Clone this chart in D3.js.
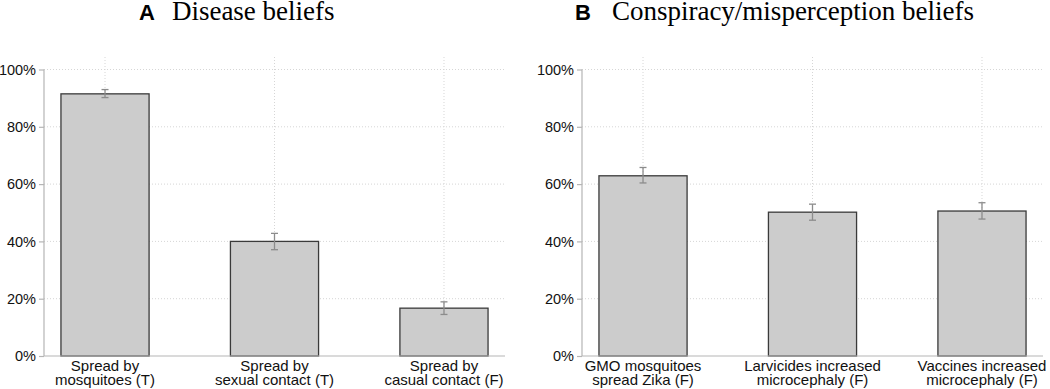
<!DOCTYPE html>
<html>
<head>
<meta charset="utf-8">
<script src="https://cdn.jsdelivr.net/npm/d3@7"></script>
<style>
  body { margin: 0; background: #fff; }
  svg { display: block; }
</style>
</head>
<body>
<div id="chart"></div>
<script>
var W = 1050, H = 389;

// panel A
var catsA = [['Spread by', 'mosquitoes (T)'], ['Spread by', 'sexual contact (T)'], ['Spread by', 'casual contact (F)']];
var valsA = [91.5, 40.0, 16.7];
var loA = [90.2, 37.1, 14.5];
var hiA = [93.0, 42.8, 18.9];

// panel B
var catsB = [['GMO mosquitoes', 'spread Zika (F)'], ['Larvicides increased', 'microcephaly (F)'], ['Vaccines increased', 'microcephaly (F)']];
var valsB = [62.9, 50.2, 50.6];
var loB = [60.4, 47.4, 47.8];
var hiB = [65.8, 53.0, 53.5];

var yTicks = [0, 20, 40, 60, 80, 100];

var svg = d3.select('#chart').append('svg')
    .attr('width', W)
    .attr('height', H);

function drawPanel(opts) {
    var g = svg.append('g');
    var x0 = opts.left, x1 = opts.right;
    var top = 57, bottom = 356;

    var y = d3.scaleLinear().domain([0, 100]).range([bottom, 69.5]);
    var x = d3.scaleBand()
        .domain(d3.range(opts.cats.length))
        .range([x0, x1])
        .paddingInner(0.48)
        .paddingOuter(0.1);

    // horizontal grid
    g.append('g').selectAll('line')
        .data(yTicks.filter(function(t) { return t > 0; }))
        .join('line')
        .attr('x1', x0).attr('x2', x1)
        .attr('y1', function(d) { return y(d); })
        .attr('y2', function(d) { return y(d); })
        .attr('stroke', '#d6d6d6')
        .attr('stroke-width', 1)
        .attr('stroke-dasharray', '1,2');

    // vertical grid at bar centres
    g.append('g').selectAll('line')
        .data(d3.range(opts.cats.length))
        .join('line')
        .attr('x1', function(d) { return x(d) + x.bandwidth() / 2; })
        .attr('x2', function(d) { return x(d) + x.bandwidth() / 2; })
        .attr('y1', top).attr('y2', bottom)
        .attr('stroke', '#d6d6d6')
        .attr('stroke-width', 1)
        .attr('stroke-dasharray', '1,2');

    // bars
    g.append('g').selectAll('rect')
        .data(opts.vals)
        .join('rect')
        .attr('x', function(d, i) { return x(i); })
        .attr('y', function(d) { return y(d); })
        .attr('width', x.bandwidth())
        .attr('height', function(d) { return y(0) - y(d); })
        .attr('fill', '#cccccc')
        .attr('stroke', '#3a3a3a')
        .attr('stroke-width', 1.3);

    // error bars
    var eb = g.append('g').selectAll('g')
        .data(opts.vals.map(function(v, i) { return {lo: opts.lo[i], hi: opts.hi[i], i: i}; }))
        .join('g')
        .attr('stroke', '#8c8c8c')
        .attr('stroke-width', 1.3);
    eb.append('line')
        .attr('x1', function(d) { return x(d.i) + x.bandwidth() / 2; })
        .attr('x2', function(d) { return x(d.i) + x.bandwidth() / 2; })
        .attr('y1', function(d) { return y(d.lo); })
        .attr('y2', function(d) { return y(d.hi); });
    [ 'lo', 'hi' ].forEach(function(k) {
        eb.append('line')
            .attr('x1', function(d) { return x(d.i) + x.bandwidth() / 2 - 3.5; })
            .attr('x2', function(d) { return x(d.i) + x.bandwidth() / 2 + 3.5; })
            .attr('y1', function(d) { return y(d[k]); })
            .attr('y2', function(d) { return y(d[k]); });
    });

    // y axis
    var yAxis = g.append('g')
        .attr('transform', 'translate(' + x0 + ',0)')
        .call(d3.axisLeft(y).tickValues(yTicks).tickSize(5).tickPadding(3)
            .tickFormat(function(d) { return d + '%'; }));
    yAxis.select('.domain').attr('stroke', '#b5b5b5').attr('stroke-width', 1.2)
        .attr('d', 'M0,' + y(100) + 'V' + y(0));
    yAxis.selectAll('.tick line').attr('stroke', '#b5b5b5').attr('stroke-width', 1.2);
    yAxis.selectAll('.tick text')
        .attr('font-family', 'Liberation Sans, Arial, sans-serif')
        .attr('font-size', '14.5px')
        .attr('fill', '#111');

    // x axis line
    g.append('line')
        .attr('x1', x0).attr('x2', x1)
        .attr('y1', y(0)).attr('y2', y(0))
        .attr('stroke', '#b5b5b5')
        .attr('stroke-width', 1.2);

    // category labels, two lines each
    var lab = g.append('g').selectAll('text')
        .data(opts.cats)
        .join('text')
        .attr('text-anchor', 'middle')
        .attr('font-family', 'Liberation Sans, Arial, sans-serif')
        .attr('font-size', '15px')
        .attr('fill', '#111');
    lab.each(function(d, i) {
        var t = d3.select(this);
        d.forEach(function(line, j) {
            t.append('tspan')
                .attr('x', x(i) + x.bandwidth() / 2)
                .attr('y', 370.5 + j * 14.8)
                .text(line);
        });
    });

    // title: bold sans letter + serif text
    var title = g.append('text')
        .attr('x', opts.titleX)
        .attr('y', 20)
        .attr('fill', '#000');
    title.append('tspan')
        .attr('font-family', 'Liberation Sans, Arial, sans-serif')
        .attr('font-weight', 'bold')
        .attr('font-size', '22px')
        .text(opts.letter);
    title.append('tspan')
        .attr('dx', opts.titleGap)
        .attr('font-family', 'Liberation Serif, Times New Roman, serif')
        .attr('font-size', '27px')
        .text(opts.title);
}

drawPanel({left: 44, right: 505, cats: catsA, vals: valsA, lo: loA, hi: hiA,
    letter: 'A', title: 'Disease beliefs', titleX: 139, titleGap: 17});
drawPanel({left: 582, right: 1043, cats: catsB, vals: valsB, lo: loB, hi: hiB,
    letter: 'B', title: 'Conspiracy/misperception beliefs', titleX: 575, titleGap: 21});
</script>
</body>
</html>
